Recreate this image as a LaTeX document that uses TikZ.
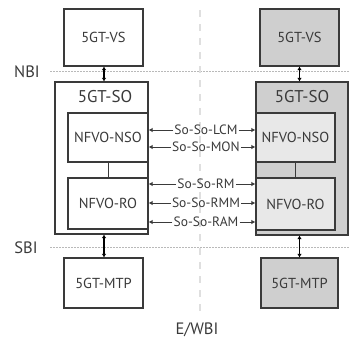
\documentclass[tikz,border=0pt]{standalone}
\usepackage{fontspec}
\setmainfont{PT Sans}
\usepackage{tikz}
\usetikzlibrary{positioning}
\usetikzlibrary{arrows.meta}

\definecolor{edgegray}{HTML}{3A3A3A}
\definecolor{sofill}{HTML}{CFCFCF}
\definecolor{innerfill}{HTML}{E8E8E8}

\tikzset{
  block/.style={draw=edgegray, line width=1.2pt, text=edgegray, font=\fontsize{14.5}{16}\selectfont, inner sep=0pt},
  outer/.style={block, fill=white},
  solabel/.style={text=edgegray, font=\fontsize{17}{19}\selectfont, inner sep=0pt},
  iface/.style={text=edgegray, font=\fontsize{13.5}{15}\selectfont, inner sep=1pt},
  plane/.style={text=edgegray, font=\fontsize{16.5}{18}\selectfont, inner sep=0pt},
  ifline/.style={draw=edgegray, line width=1pt, -{Latex[length=4pt,width=4.5pt]}},
  bidir/.style={draw=black, line width=1.6pt, {Latex[length=3.5pt,width=4.5pt]}-{Latex[length=3.5pt,width=4.5pt]}},
  border/.style={draw=gray!55, line width=0.6pt, dash pattern=on 1.5pt off 1.5pt},
  split/.style={draw=gray!25, line width=1.6pt, dash pattern=on 7pt off 7pt},
}

\begin{document}
\begin{tikzpicture}[x=1pt, y=-1pt]
    \useasboundingbox (0,0) rectangle (349,338);

    % reference lines
    \draw[border] (50,71) -- (349,71);
    \draw[border] (50,247) -- (349,247);
    \draw[split] (200,10) -- (200,318);
    \node[plane] (nbi) at (27,72) {NBI};
    \node[plane] (sbi) at (26,248) {SBI};
    \node[plane] (ewbi) at (197,330) {E/WBI};

    % left stack
    \node[block, minimum width=79pt, minimum height=57pt] (vsL) at (103.5,37.5) {5GT-VS};
    \node[outer, minimum width=93pt, minimum height=152pt] (soL) at (101.5,158) {};
    \node[solabel] (solabL) at (105,97) {5GT-SO};
    \node[block, minimum width=80pt, minimum height=49pt] (nsoL) at (108,137.5) {NFVO-NSO};
    \node[block, minimum width=80pt, minimum height=51pt] (roL) at (108,203.5) {NFVO-RO};
    \node[block, minimum width=79pt, minimum height=50pt] (mtpL) at (103.5,283) {5GT-MTP};

    % right stack
    \node[block, fill=sofill, minimum width=79pt, minimum height=57pt] (vsR) at (299.5,37.5) {5GT-VS};
    \node[block, fill=sofill, minimum width=92pt, minimum height=153pt] (soR) at (302,158.5) {};
    \node[solabel] (solabR) at (302,97) {5GT-SO};
    \node[block, fill=innerfill, minimum width=79pt, minimum height=49pt] (nsoR) at (295.5,137.5) {NFVO-NSO};
    \node[block, fill=innerfill, minimum width=79pt, minimum height=52pt] (roR) at (295.5,204) {NFVO-RO};
    \node[block, fill=sofill, minimum width=77pt, minimum height=50pt] (mtpR) at (299.5,283) {5GT-MTP};

    % inner links
    \draw[edgegray, line width=1pt] (nsoL.south) -- (roL.north);
    \draw[edgegray, line width=1pt] (nsoR.south) -- (roR.north);

    % NBI / SBI
    \draw[bidir] (vsL.south -| 104,0) -- (soL.north -| 104,0);
    \draw[bidir] (soL.south -| 104,0) -- (mtpL.north -| 104,0);
    \draw[bidir] (vsR.south) -- (vsR.south |- soR.north);
    \draw[bidir] (soR.south -| mtpR.north) -- (mtpR.north);

    % So-So interfaces
    \node[iface] (lcm) at (206,130) {So-So-LCM};
    \node[iface] (mon) at (206,147) {So-So-MON};
    \node[iface] (rm)  at (206,184) {So-So-RM};
    \node[iface] (rmm) at (206,203) {So-So-RMM};
    \node[iface] (ram) at (206,222) {So-So-RAM};
    \foreach \n in {lcm,mon} {
      \draw[ifline] (\n.west) -- (\n.west -| nsoL.east);
      \draw[ifline] (\n.east) -- (\n.east -| nsoR.west);
    }
    \foreach \n in {rm,rmm,ram} {
      \draw[ifline] (\n.west) -- (\n.west -| roL.east);
      \draw[ifline] (\n.east) -- (\n.east -| roR.west);
    }
\end{tikzpicture}
\end{document}
